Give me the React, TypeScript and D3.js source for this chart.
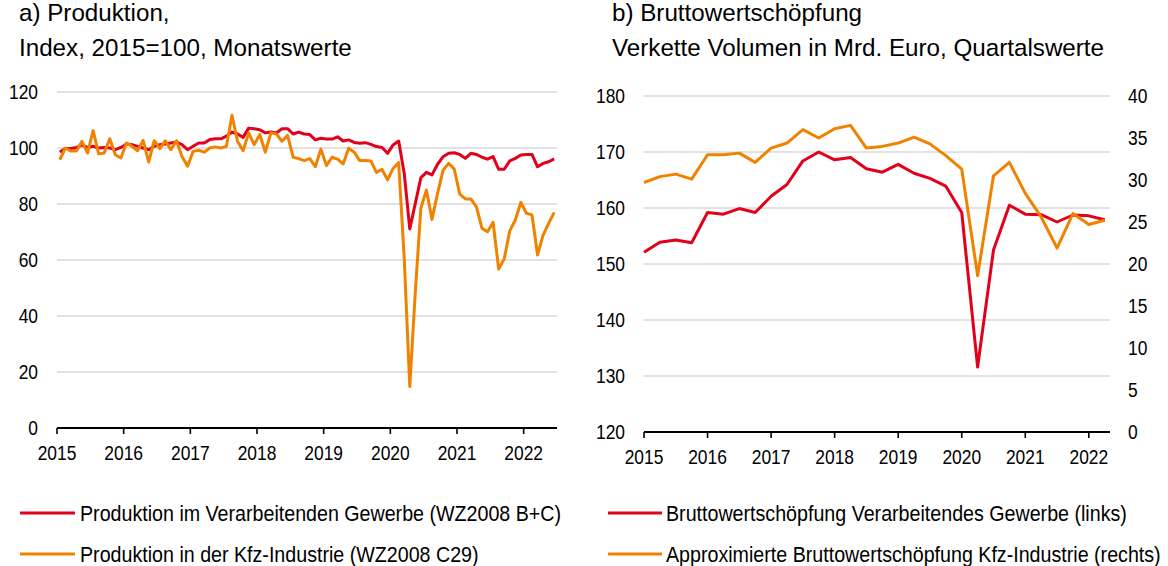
import React from "react";
import * as d3 from "d3";

// a) Produktion, Index 2015=100, Monatswerte (Jan 2015 - Jun 2022)
const prodVG = [
  98.6, 99.8, 99.8, 100.2, 101, 100.2, 100.6, 100, 100.2, 100, 99.4, 100.2,
  101.4, 101.2, 100.6, 100, 99.4, 100.6, 101.2, 101.4, 101.8, 102.1, 101.2, 99.4,
  100.6, 101.8, 101.8, 103, 103.3, 103.3, 104.2, 105.7, 105, 103.8, 107.1, 106.9,
  106.5, 105.4, 105.7, 105.4, 106.9, 106.9, 105, 105.7, 105, 104.8, 102.9, 103.5,
  103.2, 103.2, 104, 102.5, 102.9, 102, 101.7, 101.9, 101.3, 100.5, 100.2, 98.1,
  101.1, 102.5, 91, 71.1, 80.2, 89.4, 91.3, 90.4, 94.2, 96.9, 98.1, 98.3,
  97.7, 96.3, 98.1, 97.7, 96.7, 96, 96.9, 92.4, 92.4, 95.4, 96.3, 97.5,
  97.7, 97.7, 93.3, 94.5, 95.1, 96.1,
];
const prodKfz = [
  95.8, 100, 98.9, 98.9, 102.4, 98.2, 106.2, 97.9, 98.2, 103.3, 97.6, 96.4,
  101.8, 100.6, 99, 102.7, 95, 102.6, 99.8, 102.6, 99.4, 102.6, 97, 93.5,
  98.8, 99.2, 98.5, 100, 100.4, 100, 100.6, 111.7, 102.4, 99, 105.4, 101.2,
  104.8, 98.5, 105.4, 105, 102.4, 104.5, 96.7, 96.2, 95.5, 96.2, 93.3, 99.6,
  93.7, 96.7, 96, 94.3, 99.9, 98.5, 95.5, 95.5, 95.4, 91.3, 92.4, 88.6,
  92.7, 94.8, 60.6, 14.8, 48.7, 78.5, 85, 74.5, 83.8, 92.1, 94.5, 92.5,
  83.5, 81.8, 81.8, 79, 71.3, 70.1, 73.5, 56.8, 60.4, 70.4, 74.3, 80.6,
  76.7, 76.1, 61.8, 68.9, 73.1, 77,
];

// b) Bruttowertschöpfung, Quartalswerte (2015 Q1 - 2022 Q2)
const bwsVG = [
  152.1, 153.9, 154.3, 153.8, 159.2, 158.9, 159.9, 159.2, 162.1, 164.2, 168.4, 170.0,
  168.6, 169.0, 167.0, 166.4, 167.8, 166.2, 165.3, 163.9, 159.2, 131.6, 152.5, 160.5,
  158.9, 158.8, 157.5, 158.75, 158.6, 157.9,
];
const bwsKfz = [
  29.7, 30.4, 30.7, 30.1, 33.0, 33.0, 33.2, 32.1, 33.8, 34.4, 36.0, 35.0,
  36.1, 36.5, 33.8, 34.0, 34.4, 35.1, 34.3, 32.9, 31.3, 18.6, 30.5, 32.1,
  28.4, 25.6, 21.9, 26.0, 24.7, 25.2,
];

const years = [2015, 2016, 2017, 2018, 2019, 2020, 2021, 2022];
const ticksA = [0, 20, 40, 60, 80, 100, 120];
const ticksBLeft = [120, 130, 140, 150, 160, 170, 180];
const ticksBRight = [0, 5, 10, 15, 20, 25, 30, 35, 40];

const RED = "#e2001a";
const ORANGE = "#f08200";
const GRID = "#d9d9d9";
const FONT = "'Liberation Sans', Arial, sans-serif";

const T = ({ x, y, size, sx = 1, anchor = "start", children }: any) => (
  <text
    transform={`translate(${x},${y}) scale(${sx},1)`}
    textAnchor={anchor}
    fontSize={size}
    fontFamily={FONT}
    fill="#000"
  >
    {children}
  </text>
);

export default function App() {
  // left panel
  const xA = d3.scaleLinear().domain([2015, 2022.5]).range([57, 557]);
  const yA = d3.scaleLinear().domain([0, 120]).range([428, 92]);
  const monthT = (i: number) => 2015 + (i + 0.5) / 12;
  const lineA = d3
    .line<number>()
    .x((d, i) => xA(monthT(i)))
    .y((d) => yA(d));

  // right panel
  const xB = d3.scaleLinear().domain([2015, 2022 + 1 / 3]).range([644, 1110]);
  const yB1 = d3.scaleLinear().domain([120, 180]).range([432, 96]);
  const yB2 = d3.scaleLinear().domain([0, 40]).range([432, 96]);
  const quarterT = (i: number) => 2015 + i / 4;
  const lineB1 = d3
    .line<number>()
    .x((d, i) => xB(quarterT(i)))
    .y((d) => yB1(d));
  const lineB2 = d3
    .line<number>()
    .x((d, i) => xB(quarterT(i)))
    .y((d) => yB2(d));

  const tickSize = 20;
  const tickSx = 0.87;

  return (
    <svg
      width={1168}
      height={566}
      style={{ position: "absolute", left: 0, top: 0, background: "#fff" }}
    >
      {/* ---------- a) ---------- */}
      <T x={19} y={21} size={24.2}>a) Produktion,</T>
      <T x={19} y={56} size={24.2}>Index, 2015=100, Monatswerte</T>

      {ticksA.map((t) => (
        <g key={"ga" + t}>
          {t > 0 && (
            <line x1={xA(2015)} x2={xA(2022.5)} y1={yA(t)} y2={yA(t)} stroke={GRID} strokeWidth={1.6} />
          )}
          <T x={38} y={yA(t) + 7} size={tickSize} sx={tickSx} anchor="end">{t}</T>
        </g>
      ))}
      <line x1={xA(2015)} x2={xA(2022.5)} y1={yA(0)} y2={yA(0)} stroke="#000" strokeWidth={2} />
      {years.map((yr) => (
        <g key={"xa" + yr}>
          <line x1={xA(yr)} x2={xA(yr)} y1={yA(0)} y2={yA(0) + 6} stroke="#000" strokeWidth={1.6} />
          <T x={xA(yr)} y={yA(0) + 32} size={tickSize} sx={tickSx} anchor="middle">{yr}</T>
        </g>
      ))}
      <path d={lineA(prodVG) || ""} fill="none" stroke={RED} strokeWidth={3} strokeLinejoin="round" />
      <path d={lineA(prodKfz) || ""} fill="none" stroke={ORANGE} strokeWidth={3} strokeLinejoin="round" />

      {/* ---------- b) ---------- */}
      <T x={612} y={21} size={24.2}>b) Bruttowertschöpfung</T>
      <T x={612} y={56} size={24.2}>Verkette Volumen in Mrd. Euro, Quartalswerte</T>

      {ticksBLeft.map((t) => (
        <g key={"gb" + t}>
          {t > 120 && (
            <line x1={xB(2015)} x2={xB(2022 + 1 / 3)} y1={yB1(t)} y2={yB1(t)} stroke={GRID} strokeWidth={1.6} />
          )}
          <T x={625} y={yB1(t) + 7} size={tickSize} sx={tickSx} anchor="end">{t}</T>
        </g>
      ))}
      {ticksBRight.map((t) => (
        <T key={"rb" + t} x={1128} y={yB2(t) + 7} size={tickSize} sx={tickSx}>{t}</T>
      ))}
      <line x1={xB(2015)} x2={xB(2022 + 1 / 3)} y1={yB1(120)} y2={yB1(120)} stroke="#000" strokeWidth={2} />
      {years.map((yr) => (
        <g key={"xb" + yr}>
          <line x1={xB(yr)} x2={xB(yr)} y1={yB1(120)} y2={yB1(120) + 6} stroke="#000" strokeWidth={1.6} />
          <T x={xB(yr)} y={yB1(120) + 32} size={tickSize} sx={tickSx} anchor="middle">{yr}</T>
        </g>
      ))}
      <path d={lineB1(bwsVG) || ""} fill="none" stroke={RED} strokeWidth={3} strokeLinejoin="round" />
      <path d={lineB2(bwsKfz) || ""} fill="none" stroke={ORANGE} strokeWidth={3} strokeLinejoin="round" />

      {/* ---------- legends ---------- */}
      <line x1={20} x2={75} y1={513} y2={513} stroke={RED} strokeWidth={3} />
      <T x={80} y={521} size={21.6} sx={0.91}>Produktion im Verarbeitenden Gewerbe (WZ2008 B+C)</T>
      <line x1={20} x2={75} y1={554} y2={554} stroke={ORANGE} strokeWidth={3} />
      <T x={80} y={562} size={21.6} sx={0.91}>Produktion in der Kfz-Industrie (WZ2008 C29)</T>

      <line x1={608} x2={662} y1={513} y2={513} stroke={RED} strokeWidth={3} />
      <T x={666} y={521} size={21.6} sx={0.91}>Bruttowertschöpfung Verarbeitendes Gewerbe (links)</T>
      <line x1={608} x2={662} y1={554} y2={554} stroke={ORANGE} strokeWidth={3} />
      <T x={666} y={562} size={21.6} sx={0.91}>Approximierte Bruttowertschöpfung Kfz-Industrie (rechts)</T>
    </svg>
  );
}
